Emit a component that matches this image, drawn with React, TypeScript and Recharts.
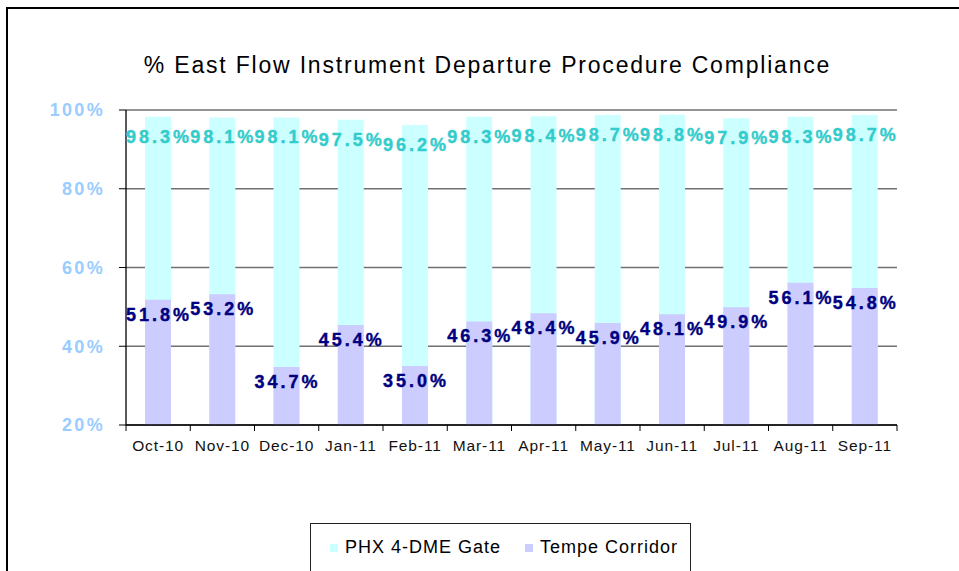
import React from "react";
import { BarChart, Bar, XAxis, YAxis, CartesianGrid, LabelList } from "recharts";

const months = ["Oct-10", "Nov-10", "Dec-10", "Jan-11", "Feb-11", "Mar-11", "Apr-11", "May-11", "Jun-11", "Jul-11", "Aug-11", "Sep-11"];
const phxGate = [98.3, 98.1, 98.1, 97.5, 96.2, 98.3, 98.4, 98.7, 98.8, 97.9, 98.3, 98.7];
const tempeCorridor = [51.8, 53.2, 34.7, 45.4, 35.0, 46.3, 48.4, 45.9, 48.1, 49.9, 56.1, 54.8];
const yTicks = [20, 40, 60, 80, 100];
const seriesNames = ["PHX 4-DME Gate", "Tempe Corridor"];
const seriesColors = ["#CCFFFF", "#CCCCFF"];
const labelColors = ["#33CCCC", "#000080"];

const data = months.map((m, i) => ({ month: m, phx: phxGate[i], tempe: tempeCorridor[i] }));

const FONT = "'Liberation Sans', Arial, sans-serif";
const BAND = 771 / 12;

function MonthTick(props: any) {
  const { x, y, payload, index } = props;
  return (
    <g>
      {index === 0 && <line x1={x - BAND / 2} x2={x - BAND / 2} y1={y - 8} y2={y - 2} stroke="#000" />}
      <line x1={x + BAND / 2} x2={x + BAND / 2} y1={y - 8} y2={y - 2} stroke="#000" />
      <text x={x} y={y + 18} textAnchor="middle" fontSize={15.5} letterSpacing={0.9} fill="#111" fontFamily={FONT}>
        {payload.value}
      </text>
    </g>
  );
}

function makeLabel(color: string, offset: number) {
  return (props: any) => {
    const { x, y, width, value } = props;
    return (
      <text
        x={x + width / 2 + 1}
        y={y + offset}
        textAnchor="middle"
        dominantBaseline="central"
        fontSize={18}
        fontWeight="bold"
        letterSpacing={3}
        fill={color}
        stroke={color}
        strokeWidth={0.4}
        fontFamily={FONT}
      >
        {`${Number(value).toFixed(1)}%`}
      </text>
    );
  };
}

export default function App() {
  return (
    <div style={{ position: "fixed", left: 0, top: 0, width: 959, height: 571, overflow: "hidden", background: "#fff", fontFamily: FONT }}>
      <div style={{ position: "absolute", left: 6, top: 7, width: 1200, height: 1200, borderLeft: "2px solid #000", borderTop: "2px solid #000" }} />
      <div style={{ position: "absolute", left: 0, width: 975, top: 52, textAlign: "center", fontSize: 23, letterSpacing: 1.8, color: "#000", whiteSpace: "nowrap" }}>
        % East Flow Instrument Departure Procedure Compliance
      </div>
      <div style={{ position: "absolute", left: 0, top: 0 }}>
        <BarChart width={959} height={571} data={data} margin={{ top: 110, right: 62, left: 6, bottom: 116 }} barGap={0}>
          <CartesianGrid vertical={false} stroke="#707070" strokeWidth={1.3} />
          <XAxis
            xAxisId="main"
            dataKey="month"
            tickLine={false}
            axisLine={{ stroke: "#000", strokeWidth: 1.3 }}
            tick={<MonthTick />}
            height={30}
            interval={0}
          />
          <XAxis xAxisId="over" dataKey="month" hide />
          <YAxis
            domain={[20, 100]}
            ticks={yTicks}
            width={120}
            tickSize={7}
            tickMargin={14}
            axisLine={{ stroke: "#000", strokeWidth: 1.3 }}
            tickLine={{ stroke: "#000" }}
            tickFormatter={(v) => `${v}%`}
            tick={{ fill: "#99CCFF", fontSize: 18, fontWeight: "bold", letterSpacing: 2.3, fontFamily: FONT }}
          />
          <Bar xAxisId="main" dataKey="phx" name={seriesNames[0]} fill={seriesColors[0]} barSize={26} isAnimationActive={false}>
            <LabelList dataKey="phx" content={makeLabel(labelColors[0], 20)} />
          </Bar>
          <Bar xAxisId="over" dataKey="tempe" name={seriesNames[1]} fill={seriesColors[1]} barSize={26} isAnimationActive={false}>
            <LabelList dataKey="tempe" content={makeLabel(labelColors[1], 15)} />
          </Bar>
        </BarChart>
      </div>
      <div
        style={{
          position: "absolute",
          left: 310,
          top: 523,
          width: 381,
          height: 100,
          border: "1.5px solid #222",
          boxSizing: "border-box",
        }}
      >
        <div style={{ display: "flex", alignItems: "center", marginTop: 13, marginLeft: 19, fontSize: 18, letterSpacing: 1, color: "#000", whiteSpace: "nowrap" }}>
          {seriesNames.map((n, i) => (
            <div key={n} style={{ display: "flex", alignItems: "center", marginRight: 24, flexShrink: 0 }}>
              <span style={{ display: "inline-block", width: 8, height: 8, background: seriesColors[i], marginRight: 7 }} />
              <span>{n}</span>
            </div>
          ))}
        </div>
      </div>
    </div>
  );
}
